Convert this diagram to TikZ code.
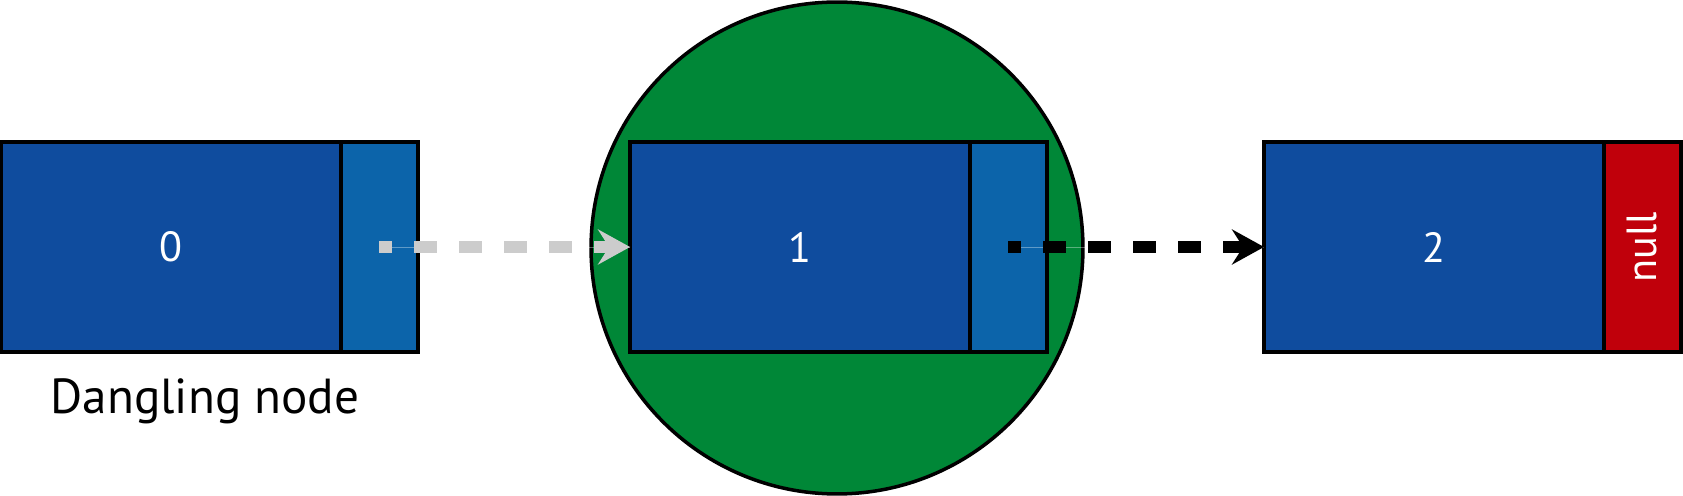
\documentclass[tikz,border=0pt]{standalone}
\usepackage{fontspec}
\setmainfont{PT Sans}
\usetikzlibrary{arrows.meta,positioning}
\definecolor{NodeBlue}{RGB}{15,76,158}
\definecolor{PtrBlue}{RGB}{12,100,170}
\definecolor{HazardGreen}{RGB}{0,135,55}
\definecolor{NullRed}{RGB}{192,0,11}
\definecolor{LinkGray}{RGB}{204,204,204}

\tikzset{
  databox/.style={draw=black, line width=2pt, fill=NodeBlue, minimum width=6.8cm,
    minimum height=4.2cm, inner sep=0pt, outer sep=0pt, text=white,
    font=\fontsize{24}{28}\selectfont},
  ptrbox/.style={databox, fill=PtrBlue, minimum width=1.54cm},
  link/.style={line width=0.24cm, dash pattern=on 0.46cm off 0.44cm, dash phase=0.2cm,
    -{Stealth[length=0.64cm, width=0.7cm, inset=0.22cm]}},
  hairline/.style={draw=white, opacity=0.35, line width=0.5pt}
}

\begin{document}
\begin{tikzpicture}[x=0.02cm, y=-0.02cm]
  \useasboundingbox (0,0) rectangle (1683,496);

  % hazard pointer
  \node[circle, draw=black, line width=2pt, fill=HazardGreen, minimum size=9.84cm,
    inner sep=0pt] (hazard) at (837,248) {};

  % list nodes
  \node[databox] (data0) at (171,247) {0};
  \node[ptrbox, right=0pt of data0] (ptr0) {};
  \node[databox] (data1) at (800,247) {1};
  \node[ptrbox, right=0pt of data1] (ptr1) {};
  \node[databox] (data2) at (1434,247) {2};
  \node[ptrbox, fill=NullRed, right=0pt of data2] (ptr2) {\rotatebox{90}{null}};

  \node[anchor=base, font=\fontsize{28}{33}\selectfont] (dangling) at (205,413) {Dangling node};

  % next links
  \draw[hairline] (ptr0.center) -- (data1.west);
  \draw[link, LinkGray] (ptr0.center) -- (data1.west);
  \draw[hairline] (ptr1.center) -- (data2.west);
  \draw[link, black] (ptr1.center) -- (data2.west);
\end{tikzpicture}
\end{document}
